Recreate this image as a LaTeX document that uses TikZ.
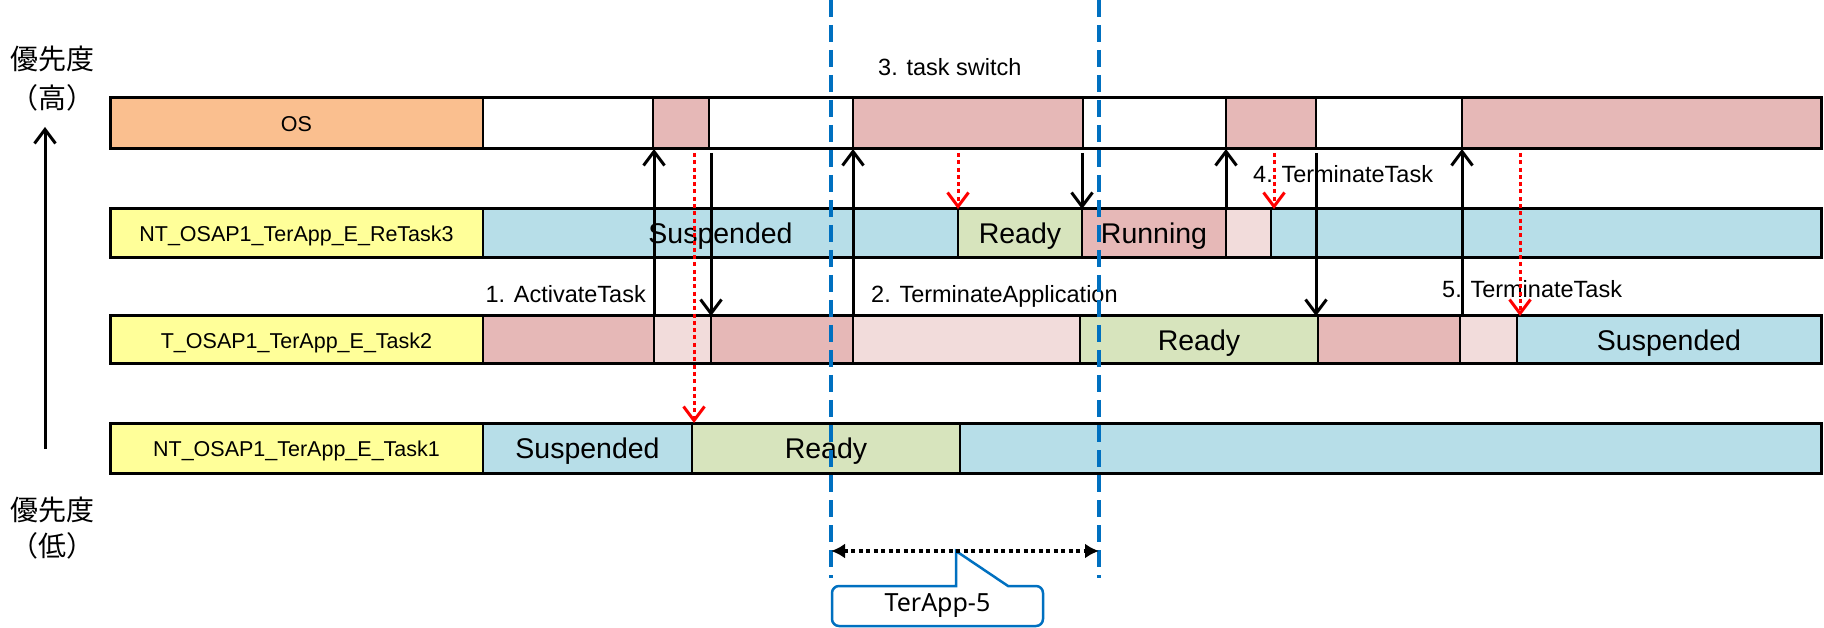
\documentclass[tikz,border=0pt]{standalone}
\usepackage{fontspec}
\setmainfont{Liberation Sans}
\newfontfamily\jpfont{Noto Sans CJK JP}
\newfontfamily\calfont{Noto Sans}
\usetikzlibrary{arrows.meta,calc}
\definecolor{osorange}{RGB}{250,191,143}
\definecolor{lblyellow}{RGB}{255,255,153}
\definecolor{runpink}{RGB}{230,184,183}
\definecolor{lightpink}{RGB}{242,220,219}
\definecolor{susblue}{RGB}{183,222,232}
\definecolor{readygreen}{RGB}{215,228,189}
\definecolor{msblue}{RGB}{0,112,192}
\definecolor{arrred}{RGB}{255,0,0}
\tikzset{
  segbox/.style={draw=black, line width=1.5pt, inner sep=0pt, outer sep=0pt, anchor=north west},
  rowframe/.style={draw=black, line width=3pt},
  anntext/.style={font=\fontsize{23.5}{26}\selectfont, inner sep=0pt},
  jptext/.style={font=\jpfont\fontsize{28}{32}\selectfont, inner sep=0pt},
  blkarrow/.style={draw=black, line width=3pt, -{Straight Barb[length=14pt,width=21pt,line width=3pt]}},
  redarrow/.style={draw=arrred, line width=3pt, dash pattern=on 4pt off 3.3pt, -{Straight Barb[length=14pt,width=21pt,line width=3pt]}},
  vdash/.style={draw=msblue, line width=3.5pt, dash pattern=on 17pt off 8pt},
  spanarrow/.style={draw=black, line width=4pt, dash pattern=on 4pt off 3.5pt, {Latex[length=14pt,width=15pt]}-{Latex[length=14pt,width=15pt]}},
  calloutline/.style={draw=msblue, line width=2.5pt, fill=white},
}
\newcommand\mkseg[7]{\node[segbox, fill=#6, minimum width={#3-#2}, minimum height=#5] (#1) at (#2,#4) {#7};}
\newcommand\lbltxt[1]{{\fontsize{21.5}{24}\selectfont\rule[-4.5pt]{0pt}{25.4pt}#1}}
\newcommand\bigtxt[1]{{\fontsize{28.5}{32}\selectfont\rule[-6pt]{0pt}{33pt}#1}}
\begin{document}
\begin{tikzpicture}[x=1pt,y=-1pt]
\useasboundingbox (0,0) rectangle (1824,628);
% ---- OS row
\mkseg{os0}{110}{483}{98}{51}{osorange}{\lbltxt{OS}}
\mkseg{os1}{483}{653}{98}{51}{white}{}
\mkseg{os2}{653}{709}{98}{51}{runpink}{}
\mkseg{os3}{709}{853}{98}{51}{white}{}
\mkseg{os4}{853}{1083}{98}{51}{runpink}{}
\mkseg{os5}{1083}{1226}{98}{51}{white}{}
\mkseg{os6}{1226}{1316}{98}{51}{runpink}{}
\mkseg{os7}{1316}{1462}{98}{51}{white}{}
\mkseg{os8}{1462}{1821}{98}{51}{runpink}{}
\draw[rowframe] (os0.north west) rectangle (os8.south east);
% ---- ReTask3 row
\mkseg{ra0}{110}{483}{209}{49}{lblyellow}{\lbltxt{NT\_OSAP1\_TerApp\_E\_ReTask3}}
\mkseg{ra1}{483}{958}{209}{49}{susblue}{\bigtxt{Suspended}}
\mkseg{ra2}{958}{1082}{209}{49}{readygreen}{\bigtxt{Ready}}
\mkseg{ra3}{1082}{1226}{209}{49}{runpink}{\bigtxt{Running}}
\mkseg{ra4}{1226}{1271}{209}{49}{lightpink}{}
\mkseg{ra5}{1271}{1821}{209}{49}{susblue}{}
\draw[rowframe] (ra0.north west) rectangle (ra5.south east);
% ---- Task2 row
\mkseg{tb0}{110}{483}{316}{48}{lblyellow}{\lbltxt{T\_OSAP1\_TerApp\_E\_Task2}}
\mkseg{tb1}{483}{654}{316}{48}{runpink}{}
\mkseg{tb2}{654}{711}{316}{48}{lightpink}{}
\mkseg{tb3}{711}{853}{316}{48}{runpink}{}
\mkseg{tb4}{853}{1080}{316}{48}{lightpink}{}
\mkseg{tb5}{1080}{1318}{316}{48}{readygreen}{\bigtxt{Ready}}
\mkseg{tb6}{1318}{1460}{316}{48}{runpink}{}
\mkseg{tb7}{1460}{1517}{316}{48}{lightpink}{}
\mkseg{tb8}{1517}{1821}{316}{48}{susblue}{\bigtxt{Suspended}}
\draw[rowframe] (tb0.north west) rectangle (tb8.south east);
% ---- Task1 row
\mkseg{tc0}{110}{483}{423}{50}{lblyellow}{\lbltxt{NT\_OSAP1\_TerApp\_E\_Task1}}
\mkseg{tc1}{483}{692}{423}{50}{susblue}{\bigtxt{Suspended}}
\mkseg{tc2}{692}{960}{423}{50}{readygreen}{\bigtxt{Ready}}
\mkseg{tc3}{960}{1821}{423}{50}{susblue}{}
\draw[rowframe] (tc0.north west) rectangle (tc3.south east);
% ---- priority axis
\coordinate (axb) at (45,449);
\coordinate (axt) at (45,127);
\draw[blkarrow] (axb) -- (axt);
\node[jptext] (jp1) at (52,59) {優先度};
\node[jptext] (jp2) at (52,98) {（高）};
\node[jptext] (jp3) at (52,510) {優先度};
\node[jptext] (jp4) at (52,546) {（低）};
% ---- annotations
\node[anntext, anchor=base east] (n1) at (646,303) {1. ActivateTask};
\node[anntext, anchor=base west] (n2) at (871,303) {2. TerminateApplication};
\node[anntext, anchor=base west] (n3) at (878,76) {3. task switch};
\node[anntext, anchor=base west] (n4) at (1253,183) {4. TerminateTask};
\node[anntext, anchor=base west] (n5) at (1442,298) {5. TerminateTask};
% ---- black arrows
\draw[blkarrow] (tb2.north west) -- (tb2.north west |- os2.south);
\draw[blkarrow, shorten <=4pt] (tb3.north west |- os2.south) -- (tb3.north west);
\draw[blkarrow] (tb4.north west) -- (tb4.north west |- os4.south);
\draw[blkarrow, shorten <=4pt] (ra3.north west |- os4.south) -- (ra3.north west);
\draw[blkarrow] (ra4.north west) -- (ra4.north west |- os6.south);
\draw[blkarrow, shorten <=4pt] ([xshift=-2pt]tb6.north west |- os6.south) -- ([xshift=-2pt]tb6.north west);
\draw[blkarrow] ([xshift=2pt]tb7.north west) -- ([xshift=2pt]tb7.north west |- os8.south);
% ---- red dotted arrows
\draw[redarrow, shorten <=4pt] ([xshift=2pt]tc2.north west |- os2.south) -- ([xshift=2pt]tc2.north west);
\draw[redarrow, shorten <=4pt] (ra2.north west |- os4.south) -- (ra2.north west);
\draw[redarrow, shorten <=4pt] ([xshift=3pt]ra5.north west |- os6.south) -- ([xshift=3pt]ra5.north west);
\draw[redarrow, shorten <=4pt] ([xshift=3pt]tb8.north west |- os8.south) -- ([xshift=3pt]tb8.north west);
% ---- blue dashed boundaries
\coordinate (v1t) at (831,0);
\coordinate (v1b) at (831,578);
\coordinate (v2t) at (1099,0);
\coordinate (v2b) at (1099,578);
\draw[vdash] (v1t) -- (v1b);
\draw[vdash] (v2t) -- (v2b);
% ---- span arrow and callout
\coordinate (d1) at (831,551);
\coordinate (d2) at (1099,551);
\coordinate (ctip) at (956,551);
\draw[calloutline] (956,586) -- (ctip) -- (1008,586)
  {[rounded corners=7pt] -- (1043,586) -- (1043,626) -- (832,626) -- (832,586)} -- cycle;
\draw[spanarrow] (d1) -- (d2);
\node[font=\calfont\fontsize{25}{28}\selectfont, inner sep=0pt] (cbox) at (937.5,606) {TerApp-5};
\end{tikzpicture}
\end{document}
